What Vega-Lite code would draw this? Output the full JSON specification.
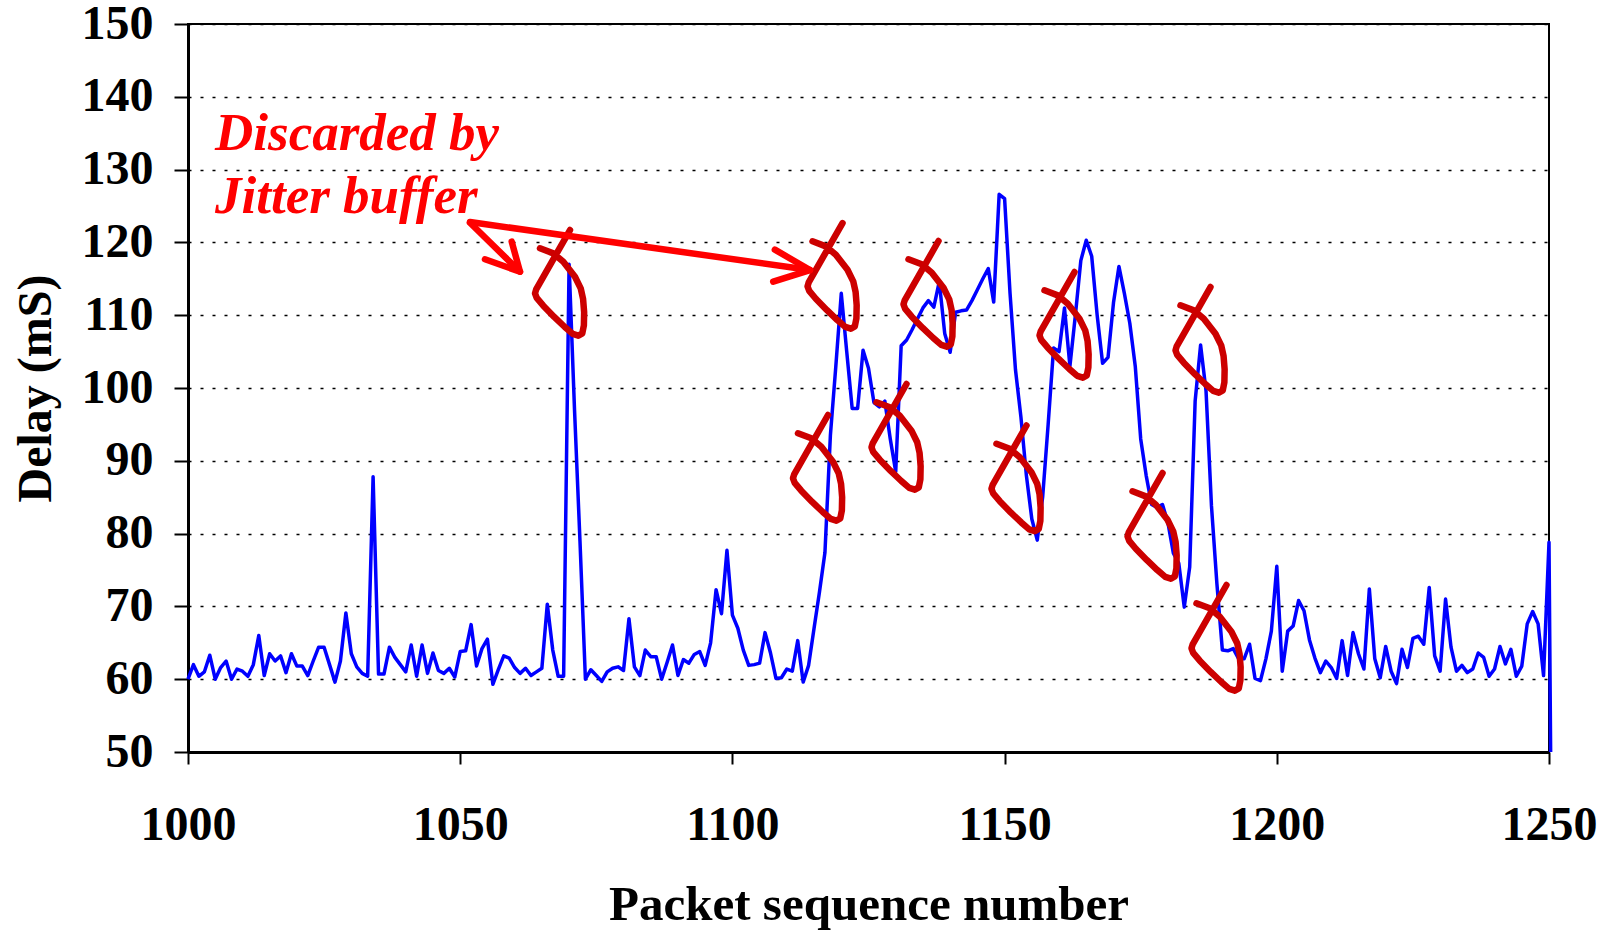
{
"$schema": "https://vega.github.io/schema/vega-lite/v6.json",
"width": 1361, "height": 728,
"autosize": {"type": "none"},
"padding": {"left": 188, "top": 24, "right": 65, "bottom": 178},
"background": "white",
"config": {"view": {"stroke": "black", "strokeWidth": 2}, "font": "Liberation Serif"},
"datasets": {
"delay": [
{"p":1000,"d":60},{"p":1001,"d":62},{"p":1002,"d":60.4},{"p":1003,"d":61},{"p":1004,"d":63.3},{"p":1005,"d":60},{"p":1006,"d":61.6},{"p":1007,"d":62.5},{"p":1008,"d":60},{"p":1009,"d":61.4},
{"p":1010,"d":61.1},{"p":1011,"d":60.4},{"p":1012,"d":62},{"p":1013,"d":66},{"p":1014,"d":60.5},{"p":1015,"d":63.5},{"p":1016,"d":62.5},{"p":1017,"d":63.2},{"p":1018,"d":60.9},{"p":1019,"d":63.5},
{"p":1020,"d":61.8},{"p":1021,"d":61.8},{"p":1022,"d":60.5},{"p":1023,"d":62.5},{"p":1024,"d":64.4},{"p":1025,"d":64.4},{"p":1026,"d":62},{"p":1027,"d":59.6},{"p":1028,"d":62.5},{"p":1029,"d":69.1},
{"p":1030,"d":63.5},{"p":1031,"d":61.7},{"p":1032,"d":60.8},{"p":1033,"d":60.4},{"p":1034,"d":87.8},{"p":1035,"d":60.7},{"p":1036,"d":60.7},{"p":1037,"d":64.4},{"p":1038,"d":63},{"p":1039,"d":62},
{"p":1040,"d":61},{"p":1041,"d":64.7},{"p":1042,"d":60.4},{"p":1043,"d":64.7},{"p":1044,"d":60.8},{"p":1045,"d":63.6},{"p":1046,"d":61.2},{"p":1047,"d":60.8},{"p":1048,"d":61.5},{"p":1049,"d":60.3},
{"p":1050,"d":63.8},{"p":1051,"d":63.9},{"p":1052,"d":67.5},{"p":1053,"d":61.8},{"p":1054,"d":64.2},{"p":1055,"d":65.5},{"p":1056,"d":59.3},{"p":1057,"d":61.3},{"p":1058,"d":63.2},{"p":1059,"d":62.9},
{"p":1060,"d":61.6},{"p":1061,"d":60.8},{"p":1062,"d":61.5},{"p":1063,"d":60.5},{"p":1064,"d":61},{"p":1065,"d":61.5},{"p":1066,"d":70.3},{"p":1067,"d":64},{"p":1068,"d":60.4},{"p":1069,"d":60.4},
{"p":1070,"d":117},{"p":1071,"d":97},{"p":1072,"d":79},{"p":1073,"d":60},{"p":1074,"d":61.3},{"p":1075,"d":60.5},{"p":1076,"d":59.7},{"p":1077,"d":61},{"p":1078,"d":61.5},{"p":1079,"d":61.7},
{"p":1080,"d":61.2},{"p":1081,"d":68.3},{"p":1082,"d":61.7},{"p":1083,"d":60.5},{"p":1084,"d":64},{"p":1085,"d":63.1},{"p":1086,"d":63.1},{"p":1087,"d":60},{"p":1088,"d":62.3},{"p":1089,"d":64.7},
{"p":1090,"d":60.5},{"p":1091,"d":62.7},{"p":1092,"d":62.2},{"p":1093,"d":63.4},{"p":1094,"d":63.8},{"p":1095,"d":61.9},{"p":1096,"d":65},{"p":1097,"d":72.3},{"p":1098,"d":69},{"p":1099,"d":77.7},
{"p":1100,"d":68.8},{"p":1101,"d":67},{"p":1102,"d":64},{"p":1103,"d":61.9},{"p":1104,"d":62},{"p":1105,"d":62.2},{"p":1106,"d":66.4},{"p":1107,"d":63.6},{"p":1108,"d":60.1},{"p":1109,"d":60.2},
{"p":1110,"d":61.4},{"p":1111,"d":61.1},{"p":1112,"d":65.3},{"p":1113,"d":59.6},{"p":1114,"d":61.9},{"p":1115,"d":67},{"p":1116,"d":72},{"p":1117,"d":77.4},{"p":1118,"d":93.5},{"p":1119,"d":103},
{"p":1120,"d":113},{"p":1121,"d":105},{"p":1122,"d":97.2},{"p":1123,"d":97.2},{"p":1124,"d":105.2},{"p":1125,"d":102.7},{"p":1126,"d":98},{"p":1127,"d":97.4},{"p":1128,"d":98.2},{"p":1129,"d":93},
{"p":1130,"d":88.5},{"p":1131,"d":105.8},{"p":1132,"d":106.6},{"p":1133,"d":108},{"p":1134,"d":109.5},{"p":1135,"d":111},{"p":1136,"d":112},{"p":1137,"d":111.1},{"p":1138,"d":114.6},{"p":1139,"d":107.5},
{"p":1140,"d":104.9},{"p":1141,"d":110.4},{"p":1142,"d":110.6},{"p":1143,"d":110.7},{"p":1144,"d":112},{"p":1145,"d":113.5},{"p":1146,"d":115},{"p":1147,"d":116.4},{"p":1148,"d":111.8},{"p":1149,"d":126.6},
{"p":1150,"d":126},{"p":1151,"d":113},{"p":1152,"d":102.5},{"p":1153,"d":96},{"p":1154,"d":88},{"p":1155,"d":82},{"p":1156,"d":79.1},{"p":1157,"d":85.1},{"p":1158,"d":95},{"p":1159,"d":105.5},
{"p":1160,"d":105},{"p":1161,"d":111},{"p":1162,"d":103},{"p":1163,"d":110},{"p":1164,"d":117.5},{"p":1165,"d":120.3},{"p":1166,"d":118.1},{"p":1167,"d":110},{"p":1168,"d":103.4},{"p":1169,"d":104.2},
{"p":1170,"d":111.7},{"p":1171,"d":116.7},{"p":1172,"d":113},{"p":1173,"d":108.9},{"p":1174,"d":103},{"p":1175,"d":93},{"p":1176,"d":88},{"p":1177,"d":84},{"p":1178,"d":83.6},{"p":1179,"d":84},
{"p":1180,"d":81.5},{"p":1181,"d":77.3},{"p":1182,"d":75.9},{"p":1183,"d":69.9},{"p":1184,"d":75.4},{"p":1185,"d":98.2},{"p":1186,"d":105.9},{"p":1187,"d":99.6},{"p":1188,"d":83.8},{"p":1189,"d":73.1},
{"p":1190,"d":64},{"p":1191,"d":63.9},{"p":1192,"d":64.2},{"p":1193,"d":62.8},{"p":1194,"d":62.8},{"p":1195,"d":64.8},{"p":1196,"d":60.1},{"p":1197,"d":59.8},{"p":1198,"d":62.8},{"p":1199,"d":66.6},
{"p":1200,"d":75.5},{"p":1201,"d":61.1},{"p":1202,"d":66.6},{"p":1203,"d":67.3},{"p":1204,"d":70.8},{"p":1205,"d":69.4},{"p":1206,"d":65.4},{"p":1207,"d":62.9},{"p":1208,"d":60.9},{"p":1209,"d":62.5},
{"p":1210,"d":61.6},{"p":1211,"d":60.1},{"p":1212,"d":65.3},{"p":1213,"d":60.5},{"p":1214,"d":66.4},{"p":1215,"d":63.5},{"p":1216,"d":61.4},{"p":1217,"d":72.4},{"p":1218,"d":62.8},{"p":1219,"d":60.2},
{"p":1220,"d":64.5},{"p":1221,"d":61.1},{"p":1222,"d":59.4},{"p":1223,"d":64.1},{"p":1224,"d":61.6},{"p":1225,"d":65.6},{"p":1226,"d":65.9},{"p":1227,"d":64.8},{"p":1228,"d":72.6},{"p":1229,"d":63.2},
{"p":1230,"d":61.1},{"p":1231,"d":71},{"p":1232,"d":64.4},{"p":1233,"d":61.1},{"p":1234,"d":61.9},{"p":1235,"d":60.9},{"p":1236,"d":61.4},{"p":1237,"d":63.6},{"p":1238,"d":63},{"p":1239,"d":60.4},
{"p":1240,"d":61.4},{"p":1241,"d":64.5},{"p":1242,"d":62.1},{"p":1243,"d":64.1},{"p":1244,"d":60.4},{"p":1245,"d":61.8},{"p":1246,"d":67.6},{"p":1247,"d":69.3},{"p":1248,"d":67.6},{"p":1249,"d":60.5},
{"p":1250,"d":78.8},{"p":1250.3,"d":50}
],
"marks": [
{"p":1068.24,"d":114.42},{"p":1118.3,"d":115.38},{"p":1115.63,"d":89.01},{"p":1135.93,"d":112.91},{"p":1130.05,"d":93.27},
{"p":1160.91,"d":108.65},{"p":1152.09,"d":87.57},{"p":1177.08,"d":81.04},{"p":1185.89,"d":106.59},{"p":1188.83,"d":65.66}
],
"arrows": [
{"seg":"a","o":1,"p":1051.8,"d":122.8},{"seg":"a","o":2,"p":1114.25,"d":116.2},
{"seg":"b","o":1,"p":1107.8,"d":119.0},{"seg":"b","o":2,"p":1114.25,"d":116.2},{"seg":"b","o":3,"p":1107.5,"d":114.6},
{"seg":"c","o":1,"p":1051.8,"d":122.7},{"seg":"c","o":2,"p":1060.98,"d":115.98},
{"seg":"e","o":1,"p":1054.55,"d":117.68},{"seg":"e","o":2,"p":1060.98,"d":115.98},{"seg":"e","o":3,"p":1059.46,"d":120.1}
],
"notes": [
{"p":1004.96,"d":132.7,"t":"Discarded by"},
{"p":1004.96,"d":124.0,"t":"Jitter buffer"}
]
},
"layer": [
{
"data": {"name": "delay"},
"mark": {"type": "line", "color": "#0000FF", "strokeWidth": 3.5, "clip": false, "strokeJoin": "round"},
"encoding": {
"x": {"field": "p", "type": "quantitative", "scale": {"domain": [1000, 1250], "nice": false, "zero": false},
"axis": {"title": "Packet sequence number", "values": [1000, 1050, 1100, 1150, 1200, 1250], "format": "d",
"labelFont": "Liberation Serif", "labelFontSize": 48, "labelFontWeight": "bold", "labelColor": "black",
"labelBaseline": "alphabetic", "labelPadding": 75, "labelFlush": false, "labelOverlap": false,
"tickSize": 12, "tickColor": "black", "tickWidth": 2, "domainColor": "black", "domainWidth": 3, "grid": false,
"titleFont": "Liberation Serif", "titleFontSize": 49, "titleFontWeight": "bold", "titleColor": "black",
"titleBaseline": "alphabetic", "titleY": 167}},
"y": {"field": "d", "type": "quantitative", "scale": {"domain": [50, 150], "nice": false, "zero": false},
"axis": {"title": "Delay (mS)", "values": [50, 60, 70, 80, 90, 100, 110, 120, 130, 140, 150],
"labelFont": "Liberation Serif", "labelFontSize": 48, "labelFontWeight": "bold", "labelColor": "black",
"labelPadding": 21, "labelFlush": false, "labelOverlap": false,
"tickSize": 14, "tickColor": "black", "tickWidth": 2, "domainColor": "black", "domainWidth": 3,
"grid": true, "gridColor": "black", "gridDash": [3, 9], "gridWidth": 1.5,
"titleFont": "Liberation Serif", "titleFontSize": 48, "titleFontWeight": "bold", "titleColor": "black",
"titleAngle": -90, "titleBaseline": "alphabetic", "titleAlign": "center", "titleX": -138, "titleY": 364}}
}
},
{
"data": {"name": "marks"},
"mark": {"type": "point", "shape": "M-0.368,-0.655L-0.117,-0.56L0.072,-0.402L0.292,-0.119L0.4,0.1L0.445,0.3L0.465,0.55L0.46,0.8L0.43,0.95L0.355,0.994L0.25,0.96L0.1,0.83L-0.1,0.64L-0.306,0.428L-0.43,0.28L-0.462,0.194L-0.44,0.12L0.198,-1",
"size": 11236, "filled": false, "color": "#CC0000", "strokeWidth": 6.5, "opacity": 1, "strokeJoin": "round", "strokeCap": "round", "clip": false},
"encoding": {
"x": {"field": "p", "type": "quantitative", "scale": {"domain": [1000, 1250], "nice": false, "zero": false}},
"y": {"field": "d", "type": "quantitative", "scale": {"domain": [50, 150], "nice": false, "zero": false}}
}
},
{
"data": {"name": "arrows"},
"mark": {"type": "line", "color": "#FF0000", "strokeWidth": 6.5, "clip": false, "strokeCap": "round", "strokeJoin": "round"},
"encoding": {
"x": {"field": "p", "type": "quantitative", "scale": {"domain": [1000, 1250], "nice": false, "zero": false}},
"y": {"field": "d", "type": "quantitative", "scale": {"domain": [50, 150], "nice": false, "zero": false}},
"detail": {"field": "seg"},
"order": {"field": "o", "type": "quantitative"}
}
},
{
"data": {"name": "notes"},
"mark": {"type": "text", "align": "left", "baseline": "alphabetic", "font": "Liberation Serif", "fontSize": 53, "fontWeight": "bold", "fontStyle": "italic", "color": "#FF0000", "clip": false},
"encoding": {
"x": {"field": "p", "type": "quantitative", "scale": {"domain": [1000, 1250], "nice": false, "zero": false}},
"y": {"field": "d", "type": "quantitative", "scale": {"domain": [50, 150], "nice": false, "zero": false}},
"text": {"field": "t"}
}
}
]
}
